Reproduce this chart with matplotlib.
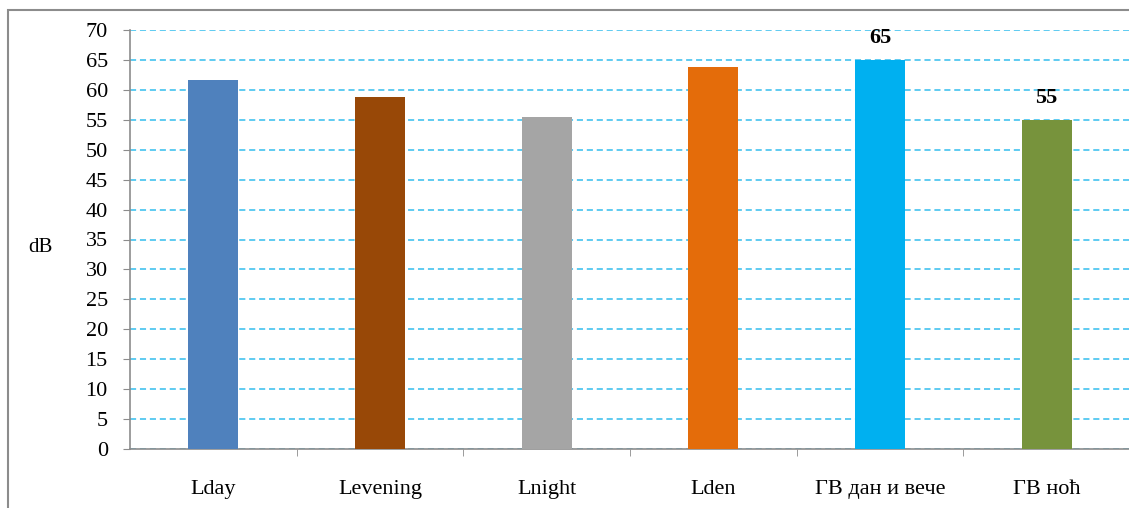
import matplotlib.pyplot as plt
from matplotlib.patches import Rectangle

categories = ['Lday', 'Levening', 'Lnight', 'Lden', 'ГВ дан и вече', 'ГВ ноћ']
values = [61.6, 58.8, 55.5, 63.8, 65, 55]
labelled = [False, False, False, False, True, True]
colors = ['#4F81BD', '#984807', '#A5A5A5', '#E46C0A', '#00B0F0', '#77933C']
yticks = list(range(0, 71, 5))

plt.rcParams['font.family'] = ['Liberation Serif', 'DejaVu Serif']

fig = plt.figure(figsize=(11.29, 5.08), dpi=100)
ax = fig.add_axes([130 / 1129, 1 - 449 / 508, 1000 / 1129, 419 / 508])

# outer frame of the chart
fig.patches.append(Rectangle((8 / 1129, -0.1), 1.2, 1.1 - 10 / 508,
                             transform=fig.transFigure, fill=False,
                             edgecolor='#8C8C8C', linewidth=1.5))

x = range(len(categories))
ax.bar(x, values, width=0.3, color=colors, zorder=3)

for i, (v, show) in enumerate(zip(values, labelled)):
    if show:
        ax.text(i, v + 2.0, f'{v:g}', ha='center', va='bottom',
                fontsize=16, fontweight='bold')

ax.set_xlim(-0.5, len(categories) - 0.5)
ax.set_ylim(0, 70)
ax.set_yticks(yticks)
ax.set_yticklabels([str(t) for t in yticks], fontsize=16)
ax.set_xticks(list(x))
ax.set_xticklabels(categories, fontsize=16)
ax.set_xticks([i + 0.5 for i in range(len(categories) - 1)], minor=True)
ax.tick_params(axis='x', which='major', length=0, pad=22)
ax.tick_params(axis='x', which='minor', length=5, color='#8C8C8C')
ax.tick_params(axis='y', length=5, color='#8C8C8C', pad=11)

ax.yaxis.grid(True, linestyle=(0, (4, 2.5)), color='#33BDEE', linewidth=1.1, zorder=0)
for s in ['top', 'right']:
    ax.spines[s].set_visible(False)
for s in ['left', 'bottom']:
    ax.spines[s].set_color('#8C8C8C')
    ax.spines[s].set_linewidth(1.2)

fig.text(40 / 1129, 1 - 248 / 508, 'dB', fontsize=15, ha='center', va='center')

fig.savefig('out.png', dpi=100)
